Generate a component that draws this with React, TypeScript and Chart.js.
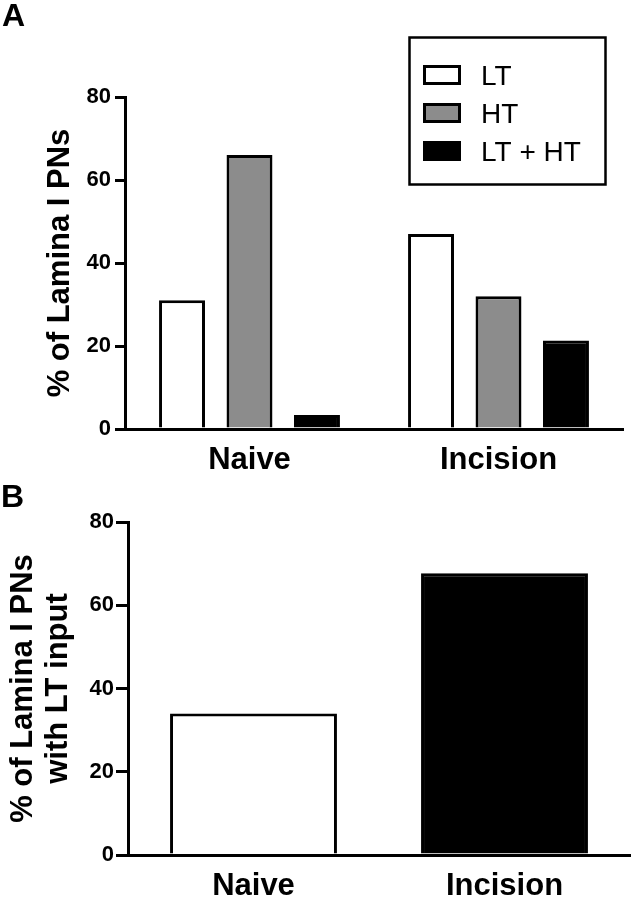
import React, { useEffect, useRef } from "react";
import { Chart, registerables } from "chart.js";

Chart.register(...registerables);

const FONT = "'Liberation Sans', Arial, Helvetica, sans-serif";

// ---- data ----
const categories = ["Naive", "Incision"];
const seriesNames = ["LT", "HT", "LT + HT"];
const ltValues = [31, 47];
const htValues = [66, 32];
const ltHtValues = [3.4, 21.3];
const ltInputValues = [34, 67.7];
const yMin = 0;
const yMax = 80;
const yStep = 20;
const titleA = "% of Lamina I PNs";
const titleB = ["% of Lamina I PNs", "with LT input"];
const seriesFills = ["#ffffff", "#8c8c8c", "#000000"];
const panelBFills = ["#ffffff", "#000000"];

function yAxis(width: number, tickLen: number, pad: number, title: any, titlePad: number, lineHeight: number) {
  return {
    min: yMin,
    max: yMax,
    ticks: {
      stepSize: yStep,
      color: "#000",
      padding: pad,
      font: { family: FONT, size: 22, weight: "bold" },
    },
    grid: {
      display: true,
      drawOnChartArea: false,
      drawTicks: true,
      tickLength: tickLen,
      color: "#000",
      lineWidth: 3,
    },
    border: { display: true, color: "#000", width: 3 },
    title: {
      display: true,
      text: title,
      color: "#000",
      font: { family: FONT, size: 31, weight: "bold", lineHeight },
      padding: { top: titlePad, bottom: 0 },
    },
    afterFit: (s: any) => {
      s.width = width;
    },
  };
}

function xAxis(height: number, pad: number) {
  return {
    type: "category",
    offset: true,
    grid: { display: false, drawTicks: false },
    border: { display: true, color: "#000", width: 3 },
    ticks: {
      color: "#000",
      padding: pad,
      maxRotation: 0,
      font: { family: FONT, size: 31, weight: "bold" },
    },
    afterFit: (s: any) => {
      s.height = height;
    },
  };
}

const panelAPlugin = {
  id: "panelA",
  afterDraw(chart: any) {
    const ctx = chart.ctx;
    ctx.save();
    ctx.fillStyle = "#000";
    ctx.font = `bold 32px ${FONT}`;
    ctx.textBaseline = "alphabetic";
    ctx.textAlign = "left";
    ctx.fillText("A", 2, 26);
    // legend box
    ctx.lineWidth = 2.5;
    ctx.strokeStyle = "#000";
    ctx.strokeRect(409.5, 37.5, 196, 147);
    chart.data.datasets.forEach((ds: any, i: number) => {
      const cy = 75 + i * 38;
      ctx.fillStyle = ds.backgroundColor;
      ctx.fillRect(424.5, cy - 8.5, 35, 17);
      ctx.lineWidth = 3;
      ctx.strokeStyle = "#000";
      ctx.strokeRect(424.5, cy - 8.5, 35, 17);
      ctx.fillStyle = "#000";
      ctx.font = `28px ${FONT}`;
      ctx.fillText(ds.label, 481, cy + 10);
    });
    ctx.restore();
  },
};

const panelBPlugin = {
  id: "panelB",
  afterDraw(chart: any) {
    const ctx = chart.ctx;
    ctx.save();
    ctx.fillStyle = "#000";
    ctx.font = `bold 32px ${FONT}`;
    ctx.textBaseline = "alphabetic";
    ctx.textAlign = "left";
    ctx.fillText("B", 1, 29);
    ctx.restore();
  },
};

export default function App() {
  const refA = useRef<HTMLCanvasElement | null>(null);
  const refB = useRef<HTMLCanvasElement | null>(null);

  useEffect(() => {
    const seriesData = [ltValues, htValues, ltHtValues];
    const chartA = new Chart(refA.current as HTMLCanvasElement, {
      type: "bar",
      data: {
        labels: categories,
        datasets: seriesNames.map((name, i) => ({
          label: name,
          data: seriesData[i],
          backgroundColor: seriesFills[i],
          borderColor: "#000",
          borderWidth: 3,
          categoryPercentage: 0.813,
          barPercentage: 0.681,
        })),
      },
      options: {
        responsive: false,
        animation: false,
        layout: { padding: { top: 97, left: 0, right: 10, bottom: 0 } },
        plugins: { legend: { display: false }, tooltip: { enabled: false } },
        scales: {
          x: xAxis(49, 13) as any,
          y: yAxis(125, 10, 4, titleA, 42, 1.2) as any,
        },
      },
      plugins: [panelAPlugin],
    });

    const chartB = new Chart(refB.current as HTMLCanvasElement, {
      type: "bar",
      data: {
        labels: categories,
        datasets: [
          {
            label: "LT input",
            data: ltInputValues,
            backgroundColor: panelBFills,
            borderColor: "#000",
            borderWidth: 3,
            categoryPercentage: 1,
            barPercentage: 0.665,
          },
        ],
      },
      options: {
        responsive: false,
        animation: false,
        layout: { padding: { top: 44, left: 0, right: 3, bottom: 0 } },
        plugins: { legend: { display: false }, tooltip: { enabled: false } },
        scales: {
          x: xAxis(44, 13) as any,
          y: yAxis(128, 12, 2, titleB, 5, 1.16) as any,
        },
      },
      plugins: [panelBPlugin],
    });

    return () => {
      chartA.destroy();
      chartB.destroy();
    };
  }, []);

  return (
    <div style={{ position: "absolute", left: 0, top: 0, width: 633, height: 899, background: "#fff" }}>
      <canvas ref={refA} width={633} height={478} style={{ position: "absolute", left: 0, top: 0, display: "block" }} />
      <canvas ref={refB} width={633} height={421} style={{ position: "absolute", left: 0, top: 478, display: "block" }} />
    </div>
  );
}
